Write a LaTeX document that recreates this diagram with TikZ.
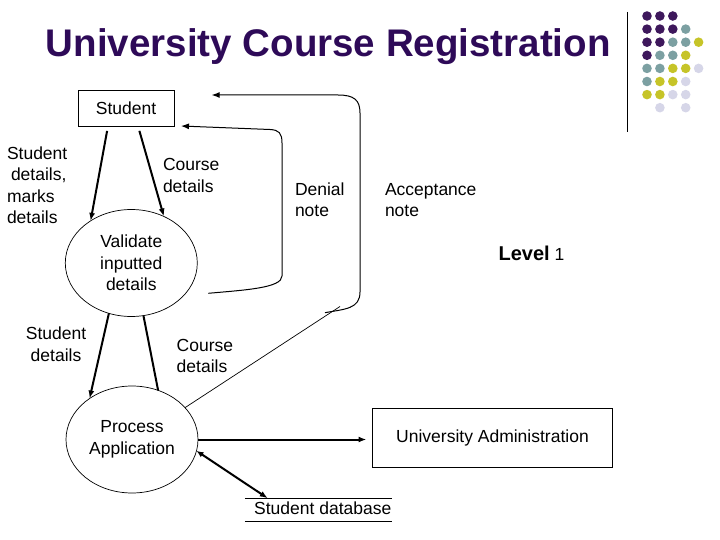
\documentclass[tikz,border=0pt]{standalone}
\usepackage{fontspec}
\setmainfont{Liberation Sans}
\usetikzlibrary{shapes.geometric,arrows.meta}
\definecolor{titlepurple}{RGB}{46,10,88}
\definecolor{pu}{RGB}{62,24,92}
\definecolor{te}{RGB}{124,160,162}
\definecolor{ye}{RGB}{198,196,40}
\definecolor{la}{RGB}{214,214,232}
\begin{document}
\begin{tikzpicture}[x=1pt, y=-1pt,
  every node/.style={font=\fontsize{17.5}{21.5}\selectfont, inner sep=0pt, outer sep=0pt},
  entity/.style={draw, line width=0.9pt},
  process/.style={draw, ellipse, line width=0.7pt, align=center, minimum width=132pt, minimum height=107pt},
  note/.style={align=left, anchor=west},
  flow/.style={-{Latex[length=8pt,width=6pt]}, line width=2pt},
  loopflow/.style={-{Latex[length=8pt,width=6pt]}, line width=1pt}]
  \useasboundingbox (0,0) rectangle (720,540);

  % title and corner decoration
  \node[anchor=base, text=titlepurple, font=\fontsize{38.5}{40}\selectfont\bfseries] (title) at (328.3,56.7) {University Course Registration};
  \draw[line width=0.9pt] (627,12) -- (627,132);
  \foreach \row/\cols in {0/{pu,pu,pu}, 1/{pu,pu,pu,te}, 2/{pu,pu,te,te,ye}, 3/{pu,te,te,ye},
                          4/{te,te,ye,ye,la}, 5/{te,ye,ye,la}, 6/{ye,ye,la,la}, 7/{none,la,none,la}}
    \foreach \dotcol [count=\col from 0] in \cols
      \fill[fill=\dotcol] (647+12.9*\col, 16+13.1*\row) circle[radius=4.8];

  % entities, processes and store
  \node[entity, minimum width=96pt, minimum height=36pt] (stud) at (126,108) {Student};
  \node[process] (val) at (131.3,263) {Validate\\inputted\\details};
  \node[process] (proc) at (132,439.5) {Process\\Application};
  \node[entity, minimum width=240pt, minimum height=59.5pt] (admin) at (492.5,438) {University Administration};
  \node[minimum width=147pt, minimum height=23.4pt] (db) at (318.3,510) {\hspace*{9pt}\raisebox{3pt}{Student database}};
  \draw[line width=0.7pt] (db.north west) -- (db.north east) (db.south west) -- (db.south east);

  % flow labels
  \node[note] (lblinput) at (7,185) {Student\\\hspace*{4pt}details,\\marks\\details};
  \node[note] (lblcourse) at (163,175.5) {Course\\details};
  \node[note] (lbldenial) at (295,199.5) {Denial\\note};
  \node[note] (lblaccept) at (385,200) {Acceptance\\note};
  \node (lbllevel) at (531.5,253.3) {{\fontsize{20}{24}\selectfont\bfseries Level} 1};
  \node[align=center] (lblstud) at (56,344) {Student\\details};
  \node[note] (lblcourse2) at (176.7,356) {Course\\details};

  % flows
  \draw[flow, shorten <=5pt] ([xshift=-18pt]stud.south) -- (val.134);
  \draw[flow, shorten <=5pt] ([xshift=12pt]stud.south) -- (val.55);
  \draw[flow] (val.246) -- (proc.136);
  \draw[line width=2pt] (val.283) -- (proc.62);
  \draw[flow, shorten >=6pt] (proc.east) -- (proc.east -| admin.west);
  \draw[{Latex[length=7pt,width=6pt]}-{Latex[length=8pt,width=6pt]}, line width=2pt] (proc.-10) -- ([xshift=23pt]db.north west);

  \coordinate (den) at (208.3,293.3);
  \draw[loopflow] (den) .. controls (245,290) and (282,288) .. (282,276) -- (282,143)
    .. controls (282,133) and (279,130) .. (270,129.5) -- ([xshift=7pt]stud.south east);

  \coordinate (accbend) at (340,306.5);
  \coordinate (accfoot) at (325,312.7);
  \coordinate (acctip) at (211.7,95);
  \draw[line width=0.7pt] (proc.31) -- (accbend);
  \draw[loopflow] (accfoot) .. controls (345,309) and (360,309) .. (360,292) -- (360,113)
    .. controls (360,100) and (354,95) .. (338,95) -- (acctip);
\end{tikzpicture}
\end{document}
